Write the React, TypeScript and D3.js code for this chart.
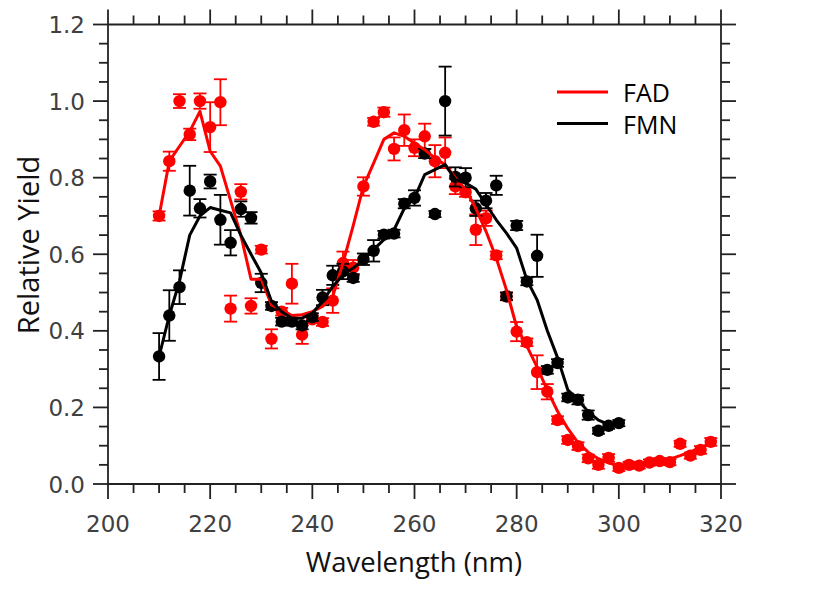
import React from "react";
import * as d3 from "d3";

// ---- data ----
const fadWavelength = [210,212,214,216,218,220,222,224,226,228,230,232,234,236,238,240,242,244,246,248,250,252,254,256,258,260,262,264,266,268,270,272,274,276,278,280,282,284,286,288,290,292,294,296,298,300,302,304,306,308,310,312,314,316,318];
const fadYield = [0.70,0.843,1.00,0.913,1.00,0.932,0.997,0.458,0.763,0.465,0.612,0.379,0.45,0.523,0.39,0.43,0.423,0.479,0.577,0.565,0.777,0.946,0.971,0.875,0.924,0.878,0.908,0.843,0.865,0.777,0.762,0.664,0.694,0.597,0.49,0.398,0.37,0.292,0.241,0.167,0.115,0.099,0.067,0.05,0.068,0.042,0.05,0.048,0.056,0.06,0.057,0.105,0.074,0.089,0.11];
const fadError = [0.012,0.025,0.018,0.015,0.02,0.065,0.06,0.034,0.02,0.02,0.01,0.025,0.01,0.052,0.024,0.01,0.01,0.032,0.03,0.02,0.024,0.01,0.012,0.03,0.041,0.022,0.033,0.042,0.04,0.02,0.012,0.04,0.02,0.01,0.01,0.025,0.01,0.044,0.02,0.01,0.01,0.01,0.01,0.01,0.01,0.008,0.008,0.008,0.008,0.008,0.008,0.008,0.008,0.01,0.01];
const fadFit = [0.70,0.843,0.882,0.921,0.973,0.869,0.83,0.74,0.65,0.535,0.535,0.468,0.455,0.44,0.442,0.45,0.464,0.49,0.577,0.675,0.777,0.838,0.90,0.917,0.908,0.89,0.873,0.851,0.834,0.80,0.769,0.72,0.66,0.59,0.507,0.41,0.36,0.305,0.245,0.19,0.145,0.108,0.083,0.066,0.055,0.048,0.046,0.048,0.052,0.058,0.065,0.074,0.084,0.095,0.107];

const fmnWavelength = [210,212,214,216,218,220,222,224,226,228,230,232,234,236,238,240,242,244,246,248,250,252,254,256,258,260,262,264,266,268,270,272,274,276,278,280,282,284,286,288,290,292,294,296,298,300];
const fmnYield = [0.333,0.44,0.514,0.766,0.72,0.79,0.69,0.63,0.718,0.695,0.525,0.465,0.424,0.424,0.414,0.436,0.487,0.545,0.555,0.538,0.587,0.609,0.651,0.654,0.732,0.747,0.863,0.705,1.0,0.802,0.80,0.72,0.74,0.78,0.49,0.675,0.529,0.596,0.298,0.316,0.226,0.22,0.18,0.139,0.152,0.159];
const fmnError = [0.061,0.066,0.044,0.065,0.024,0.018,0.065,0.033,0.02,0.015,0.024,0.01,0.01,0.01,0.01,0.01,0.02,0.025,0.02,0.01,0.015,0.028,0.01,0.01,0.012,0.02,0.012,0.008,0.09,0.025,0.025,0.02,0.02,0.025,0.01,0.012,0.01,0.055,0.01,0.01,0.01,0.012,0.012,0.008,0.008,0.008];
const fmnFit = [0.333,0.44,0.53,0.65,0.70,0.722,0.715,0.708,0.65,0.60,0.551,0.477,0.45,0.433,0.433,0.446,0.477,0.516,0.546,0.564,0.586,0.612,0.638,0.664,0.72,0.747,0.808,0.821,0.834,0.795,0.786,0.77,0.73,0.69,0.655,0.616,0.533,0.481,0.40,0.33,0.246,0.22,0.189,0.167,0.156,0.157];

const xTickValues = [200,220,240,260,280,300,320];
const yTickValues = [0.0,0.2,0.4,0.6,0.8,1.0,1.2];
const seriesNames = ["FAD","FMN"];

const W = 822, H = 593;
const L = 108, R = 721, T = 24.5, B = 484;
const FONT = "'Open Sans', 'DejaVu Sans', sans-serif";
const TICKFONT = "'DejaVu Sans', sans-serif";

export default function App() {
  const x = d3.scaleLinear().domain([200, 320]).range([L, R]);
  const y = d3.scaleLinear().domain([0, 1.2]).range([B, T]);
  const xMinor = d3.range(200, 320.001, 5);
  const yMinor = d3.range(0, 1.2001, 0.05);
  const line = d3.line<[number, number]>().x(d => x(d[0])).y(d => y(d[1]));
  const fadLine = line(fadWavelength.map((w, i) => [w, fadFit[i]]) as [number, number][]) || "";
  const fmnLine = line(fmnWavelength.map((w, i) => [w, fmnFit[i]]) as [number, number][]) || "";
  const major = 15, minor = 9;
  const isMajorX = (v: number) => Math.abs(v % 20) < 1e-6;
  const isMajorY = (v: number) => Math.abs(Math.round(v * 100) % 20) < 1e-6;
  const cap = 6.5;
  const tickColor = "#222";
  const sw = 1.8;

  const errbars = (ws: number[], vs: number[], es: number[], color: string) =>
    ws.map((w, i) => {
      const cx = x(w), y1 = y(vs[i] + es[i]), y2 = y(vs[i] - es[i]);
      return (
        <g key={"e" + color + i} stroke={color} strokeWidth={1.8}>
          <line x1={cx} x2={cx} y1={y1} y2={y2} />
          <line x1={cx - cap} x2={cx + cap} y1={y1} y2={y1} />
          <line x1={cx - cap} x2={cx + cap} y1={y2} y2={y2} />
        </g>
      );
    });
  const dots = (ws: number[], vs: number[], color: string) =>
    ws.map((w, i) => <circle key={"d" + color + i} cx={x(w)} cy={y(vs[i])} r={6.2} fill={color} />);

  return (
    <svg width={W} height={H} style={{ position: "absolute", left: 0, top: 0, background: "#fff" }}>
      <rect x={0} y={0} width={W} height={H} fill="#fff" />
      {/* spines */}
      <g stroke={tickColor} strokeWidth={sw} fill="none">
        <line x1={L} x2={R} y1={B} y2={B} />
        <line x1={L} x2={R} y1={T} y2={T} />
        <line x1={L} x2={L} y1={T} y2={B} />
        <line x1={R} x2={R} y1={T} y2={B} />
        {xMinor.map((v, i) => {
          const len = isMajorX(v) ? major : minor;
          return (
            <g key={"xt" + i}>
              <line x1={x(v)} x2={x(v)} y1={B} y2={B + len} />
              <line x1={x(v)} x2={x(v)} y1={T} y2={T - len} />
            </g>
          );
        })}
        {yMinor.map((v, i) => {
          const len = isMajorY(v) ? major : minor;
          return (
            <g key={"yt" + i}>
              <line x1={L} x2={L - len} y1={y(v)} y2={y(v)} />
              <line x1={R} x2={R + len} y1={y(v)} y2={y(v)} />
            </g>
          );
        })}
      </g>
      {/* tick labels */}
      <g fontFamily={TICKFONT} fontSize={23} fill="#404040">
        {xTickValues.map(v => (
          <text key={"xl" + v} x={x(v)} y={532} textAnchor="middle">{v}</text>
        ))}
        {yTickValues.map(v => (
          <text key={"yl" + v} x={85} y={y(v) + 8.5} textAnchor="end">{v.toFixed(1)}</text>
        ))}
      </g>
      {/* axis titles */}
      <text x={414} y={572} textAnchor="middle" fontFamily={FONT} fontSize={27.5} fill="#111">Wavelength (nm)</text>
      <text transform={`translate(39,245) rotate(-90)`} textAnchor="middle" fontFamily={FONT} fontSize={29} fill="#111">Relative Yield</text>

      {/* data */}
      {errbars(fadWavelength, fadYield, fadError, "#ff0000")}
      {dots(fadWavelength, fadYield, "#ff0000")}
      {errbars(fmnWavelength, fmnYield, fmnError, "#000000")}
      {dots(fmnWavelength, fmnYield, "#000000")}
      <path d={fadLine} fill="none" stroke="#ff0000" strokeWidth={3} strokeLinejoin="round" />
      <path d={fmnLine} fill="none" stroke="#000000" strokeWidth={3} strokeLinejoin="round" />

      {/* legend */}
      <g fontFamily={FONT} fontSize={25} fill="#000">
        <line x1={557} x2={608} y1={92} y2={92} stroke="#ff0000" strokeWidth={3} />
        <text x={623} y={102}>{seriesNames[0]}</text>
        <line x1={557} x2={608} y1={123.5} y2={123.5} stroke="#000" strokeWidth={3} />
        <text x={623} y={133.5}>{seriesNames[1]}</text>
      </g>
    </svg>
  );
}
